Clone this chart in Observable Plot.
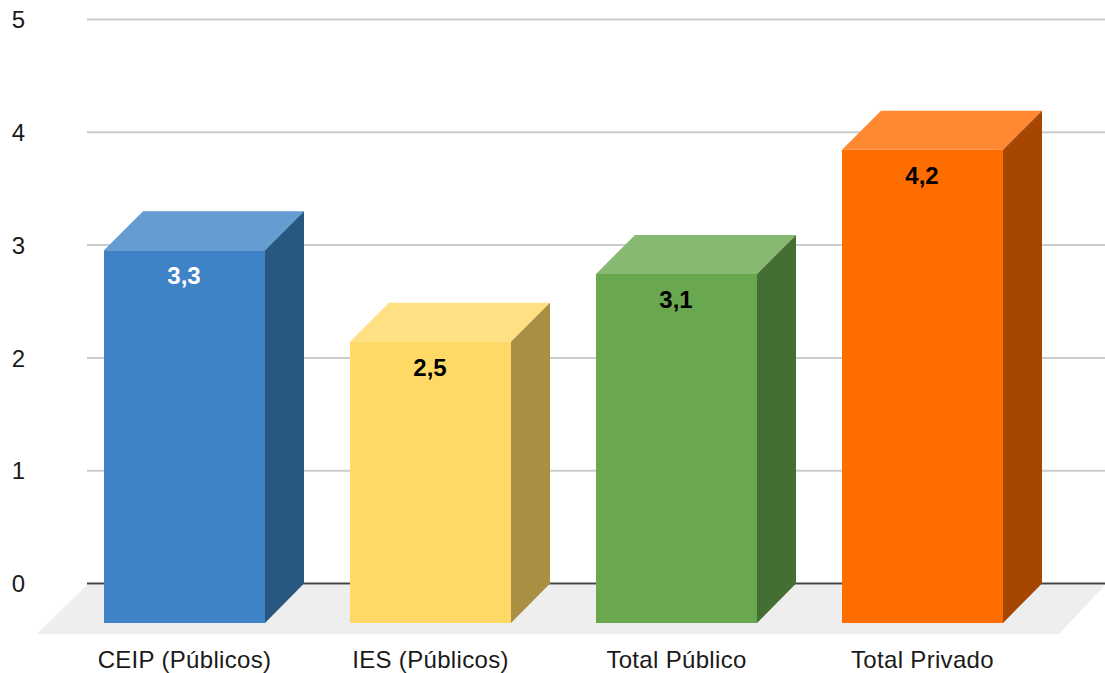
<!DOCTYPE html>
<html><head><meta charset="utf-8">
<style>html,body{margin:0;padding:0;background:#fff;overflow:hidden}svg{display:block}
g[aria-label="x-axis tick label"] text{letter-spacing:.32px}</style>
<script src="https://cdn.jsdelivr.net/npm/d3@7"></script>
<script src="https://cdn.jsdelivr.net/npm/@observablehq/plot@0.6"></script>
</head><body><div id="chart"></div>
<script>
const categories = ["CEIP (Públicos)", "IES (Públicos)", "Total Público", "Total Privado"];
const values = [3.3, 2.49, 3.09, 4.19];
const frontColors = ["#3f83c7", "#ffd966", "#6aa84f", "#ff6d00"];
const topColors = ["#659dd3", "#ffe083", "#88b972", "#ff8933"];
const sideColors = ["#285780", "#a88f42", "#446e32", "#a64600"];
const labelColors = ["#ffffff", "#000000", "#000000", "#000000"];
const yTicks = [0, 1, 2, 3, 4, 5];

const W = 1105, H = 673, PXU = 246, X0 = 184.5, Y0 = 583.5, PY = 112.8;
const halfBar = 80.5 / PXU, depthX = 39 / PXU, depthY = 39 / PY, baseY = -39.5 / PY;
const floorLeftFront = (37 - X0) / PXU, floorRightFront = (1059 - X0) / PXU;
const floorLeftBack = (87 - X0) / PXU, floorRightBack = (W - X0) / PXU;
const floorBackY = -1.5 / PY, floorFrontY = -50.5 / PY;

const bars = categories.map((c, i) => ({c, i, v: values[i]}));
const poly = (colors, part) => bars.flatMap(({i, v}) => {
  const l = i - halfBar, r = i + halfBar, b = baseY, t = v - depthY;
  const pts = part === "top"
    ? [[l, t], [r, t], [r + depthX, v], [l + depthX, v]]
    : [[r, b], [r, t], [r + depthX, v], [r + depthX, 0]];
  return pts.map(([x, y]) => ({x, y, id: i, color: colors[i]}));
});
const floor = [[floorLeftFront, floorFrontY], [floorRightFront, floorFrontY], [floorRightBack, floorBackY], [floorLeftBack, floorBackY]]
  .map(([x, y]) => ({x, y}));
const lineShift = {dx: -0.5, dy: -0.5};
const lineOpts = {x: "x", y: "y", z: "id", fill: "color", stroke: "none", ...lineShift};

const chart = Plot.plot({
  width: W, height: H,
  marginLeft: 0, marginRight: 0, marginTop: 0, marginBottom: 25,
  style: {fontFamily: "'Liberation Sans', Arial, sans-serif", background: "#fff", color: "#1a1a1a"},
  x: {type: "linear", domain: [-X0 / PXU, (W - X0) / PXU], range: [0, W]},
  y: {type: "linear", domain: [0, 5], range: [Y0, Y0 - 5 * PY]},
  color: {type: "identity"},
  marks: [
    Plot.ruleY(yTicks.filter(d => d > 0), {x1: floorLeftBack, x2: floorRightBack, stroke: "#cccccc", strokeWidth: 2, dy: -0.5}),
    Plot.ruleY([0], {x1: floorLeftBack, x2: floorRightBack, stroke: "#444444", strokeWidth: 2, dy: -0.5}),
    Plot.line(floor, {x: "x", y: "y", fill: "#eeeeee", stroke: "none", ...lineShift}),
    Plot.line(poly(topColors, "top"), lineOpts),
    Plot.line(poly(sideColors, "side"), lineOpts),
    Plot.rect(bars, {x1: d => d.i - halfBar, x2: d => d.i + halfBar, y1: baseY, y2: d => d.v - depthY, fill: d => frontColors[d.i]}),
    Plot.text(bars, {x: "i", y: d => d.v - depthY, dy: 26, dx: -1, text: d => d.v.toFixed(1).replace(".", ","), fill: d => labelColors[d.i], fontSize: 24, fontWeight: "bold"}),
    Plot.axisX({ticks: [0, 1, 2, 3], tickFormat: i => categories[i], tickSize: 0, tickPadding: 0, fontSize: 24, dy: 12, dx: -0.5, anchor: "bottom", lineAnchor: "middle", label: null}),
    Plot.axisY({ticks: yTicks, tickFormat: d => String(d), tickSize: 0, tickPadding: 0, fontSize: 24, anchor: "left", dx: 24.5, textAnchor: "end", dy: 0.5, label: null})
  ]
});
document.getElementById("chart").append(chart);
</script></body></html>
